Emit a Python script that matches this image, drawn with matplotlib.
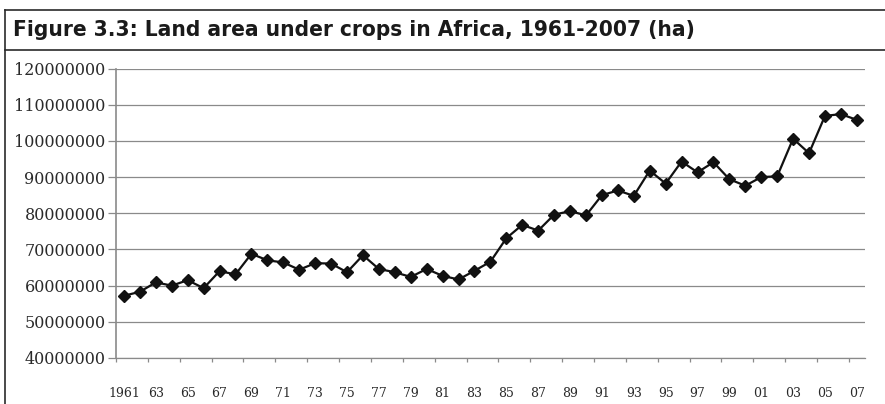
import matplotlib
matplotlib.use("Agg")
import matplotlib.pyplot as plt
from matplotlib import font_manager
from matplotlib.lines import Line2D
from matplotlib.ticker import FixedLocator, FuncFormatter

# land area under crops in Africa (ha)
years = list(range(1961, 2008))
area_mha = [57.2, 58.3, 60.9, 60.0, 61.5, 59.3, 64.0, 63.1, 68.8, 67.0,
            66.4, 64.4, 66.2, 66.1, 63.7, 68.4, 64.6, 63.7, 62.4, 64.6,
            62.7, 61.7, 64.1, 66.6, 73.1, 76.8, 75.2, 79.6, 80.6, 79.4,
            85.0, 86.3, 84.8, 91.8, 88.2, 94.3, 91.3, 94.1, 89.4, 87.6,
            90.0, 90.2, 100.6, 96.6, 106.9, 107.4, 105.8]
area_ha = [v * 1e6 for v in area_mha]

y_ticks = list(range(40000000, 120000001, 10000000))
label_years = years[::2]
title = "Figure 3.3: Land area under crops in Africa, 1961-2007 (ha)"

W, H = 885, 404
fig = plt.figure(figsize=(W / 100, H / 100), dpi=100)

# axes placed in pixel terms
left, right = 116.0, 864.8
top, bottom = 68.5, 358.0
ax = fig.add_axes([left / W, (H - bottom) / H, (right - left) / W, (bottom - top) / H])

grid_col = "#8a8a8a"
ax.plot(years, area_ha, color="#111111", lw=1.6, marker="D", ms=6.4,
        mfc="#111111", mec="#111111", zorder=3, clip_on=False)

ax.set_xlim(1960.5, 2007.5)
ax.set_ylim(40000000, 120000000)
ax.set_yticks(y_ticks)
ax.yaxis.set_major_formatter(FuncFormatter(lambda v, p: f"{int(v)}"))
ax.grid(axis="y", color=grid_col, lw=0.9)
ax.set_axisbelow(True)

ax.xaxis.set_major_locator(FixedLocator(label_years))
ax.xaxis.set_major_formatter(FuncFormatter(lambda v, p: str(int(v)) if int(v) == 1961 else f"{int(v) % 100:02d}"))
ax.xaxis.set_minor_locator(FixedLocator([y - 0.5 for y in label_years]))

for s in ["top", "right"]:
    ax.spines[s].set_visible(False)
ax.spines["left"].set_color(grid_col)
ax.spines["left"].set_linewidth(1.2)
ax.spines["bottom"].set_color(grid_col)
ax.spines["bottom"].set_linewidth(0.9)

ax.tick_params(axis="y", length=6, width=0.9, color=grid_col, pad=1.5,
               labelsize=11.5, labelcolor="#2a2a2a")
ax.tick_params(axis="x", which="major", length=0, pad=21, labelsize=9,
               labelcolor="#2a2a2a")
ax.tick_params(axis="x", which="minor", length=3, width=0.9, color=grid_col)
for lab in ax.get_xticklabels() + ax.get_yticklabels():
    lab.set_fontfamily("DejaVu Serif")

# frame around the figure and title bar
frame_col = "#2a2a2a"
fig.add_artist(Line2D([5 / W, 1], [1 - 10 / H, 1 - 10 / H], transform=fig.transFigure, color=frame_col, lw=1.2))
fig.add_artist(Line2D([5 / W, 1], [1 - 50 / H, 1 - 50 / H], transform=fig.transFigure, color=frame_col, lw=1.2))
fig.add_artist(Line2D([5 / W, 5 / W], [0, 1 - 10 / H], transform=fig.transFigure, color=frame_col, lw=1.2))

# a narrow bold face for the title if one is around, else Roboto bold
cond = [f for f in font_manager.fontManager.ttflist
        if ("Condensed" in f.fname or "Narrow" in f.fname) and f.weight in ("bold", 700)]
if cond:
    t = fig.text(13 / W, 1 - 30 / H, title, ha="left", va="center",
                 fontproperties=font_manager.FontProperties(fname=cond[0].fname), fontsize=17, color="#1a1a1a")
else:
    t = fig.text(13 / W, 1 - 30 / H, title, ha="left", va="center", fontweight="bold",
                 family=["Roboto", "DejaVu Sans"], fontsize=17, color="#1a1a1a")
# fit the title to the width it has in the figure
r = fig.canvas.get_renderer()
w = t.get_window_extent(r).width
t.set_fontsize(17 * 680 / w)

fig.savefig("out.png", dpi=100)
